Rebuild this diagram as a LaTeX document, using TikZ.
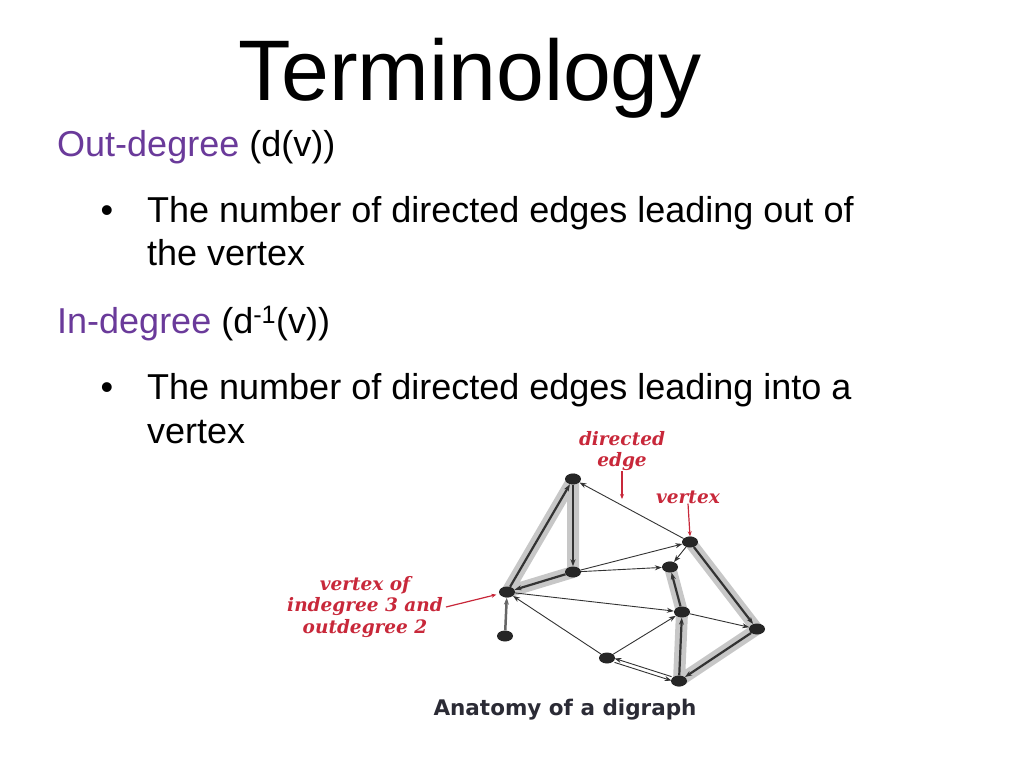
\documentclass[tikz,border=0pt]{standalone}
\usepackage{fontspec}
\setmainfont{Liberation Sans}
\newfontfamily\notefont{DejaVu Serif}
\newfontfamily\capfont{DejaVu Sans}
\usetikzlibrary{arrows.meta,shapes.geometric}
\definecolor{headpurple}{HTML}{6A3A9A}
\definecolor{notered}{HTML}{C8283A}
\definecolor{capgray}{HTML}{2B2B35}
\pgfdeclarelayer{bg}
\pgfsetlayers{bg,main}
\begin{document}
\begin{tikzpicture}[x=1pt,y=-1pt,
        txt/.style={anchor=base west,inner sep=0pt,font=\fontsize{36}{36}\selectfont},
        vtx/.style={ellipse,fill=black!85,minimum width=16pt,minimum height=11pt,inner sep=0pt},
        edge/.style={-{Stealth[length=7pt,width=5pt]},line width=0.9pt,black!80},
        hedge/.style={edge,line width=2.2pt},
        band/.style={line width=12pt,black!22,line cap=round,line join=round},
        note/.style={text=notered,font=\notefont\bfseries\itshape\fontsize{18.5}{21.5}\selectfont,
            align=center,inner sep=0pt},
        pointer/.style={-{Stealth[length=5pt,width=4pt]},notered,line width=1.2pt}]
    \useasboundingbox (0,0) rectangle (1024,768);
    % text
    \node[anchor=base,inner sep=0pt,font=\fontsize{86}{86}\selectfont] (title) at (470,100) {Terminology};
    \node[txt,text=headpurple] (outdeg) at (57,156) {Out-degree \textcolor{black}{(d(v))}};
    \node[txt,anchor=base] (dot1) at (107,222) {\textbullet};
    \node[txt] (outtxt) at (147,222) {The number of directed edges leading out of};
    \node[txt] (outtxtb) at (147,265) {the vertex};
    \node[txt,text=headpurple] (indeg) at (57,333) {In-degree \textcolor{black}{(d\textsuperscript{-1}(v))}};
    \node[txt,anchor=base] (dot2) at (107,399) {\textbullet};
    \node[txt] (intxt) at (147,399) {The number of directed edges leading into a};
    \node[txt] (intxtb) at (147,443) {vertex};
    % vertices
    \node[vtx] (a) at (573,479) {};
    \node[vtx] (vt) at (690,542) {};
    \node[vtx] (b) at (573,572) {};
    \node[vtx] (c) at (670,567) {};
    \node[vtx] (d) at (507,592) {};
    \node[vtx] (e) at (505,636) {};
    \node[vtx] (f) at (682,612) {};
    \node[vtx] (g) at (757,629) {};
    \node[vtx] (h) at (607,658) {};
    \node[vtx] (i) at (679,681) {};
    \begin{pgfonlayer}{bg}
        \draw[band] (d.center) -- (a.center) -- (b.center) -- cycle;
        \draw[band] (vt.center) -- (g.center) -- (i.center) -- (f.center) -- (c.center);
    \end{pgfonlayer}
    % edges
    \draw[hedge] (d) -- (a);
    \draw[hedge] (a) -- (b);
    \draw[hedge] (b) -- (d);
    \draw[hedge] (vt) -- (g);
    \draw[hedge] (g) -- (i);
    \draw[hedge] (i) -- (f);
    \draw[hedge] (f) -- (c);
    \draw[edge] (vt) -- (a);
    \draw[edge] (b) -- (vt);
    \draw[edge] (b) -- (c);
    \draw[edge] (vt) -- (c);
    \draw[edge] (d) -- (f);
    \draw[edge] (f) -- (g);
    \draw[edge] (h) -- (d);
    \draw[edge] (h) -- (f);
    \draw[edge,transform canvas={yshift=-2pt}] (h) -- (i);
    \draw[edge,transform canvas={yshift=2pt}] (i) -- (h);
    \draw[edge,line width=2.5pt,black!60] (e) -- (d);
    % labels
    \node[note] (dirlbl) at (622,451) {directed\\edge};
    \node[note] (vlbl) at (688,497) {vertex};
    \node[note] (deglbl) at (365,607) {vertex of\\indegree 3 and\\outdegree 2};
    \draw[pointer] (dirlbl.south) -- ++(0,28);
    \draw[pointer] (vlbl.south) -- (vt.north);
    \draw[pointer,shorten >=3pt] ([xshift=3pt]deglbl.east) -- (d);
    \node[anchor=base,inner sep=0pt,text=capgray,font=\capfont\bfseries\fontsize{21.5}{22}\selectfont] (cap) at (565,715) {Anatomy of a digraph};
\end{tikzpicture}
\end{document}
